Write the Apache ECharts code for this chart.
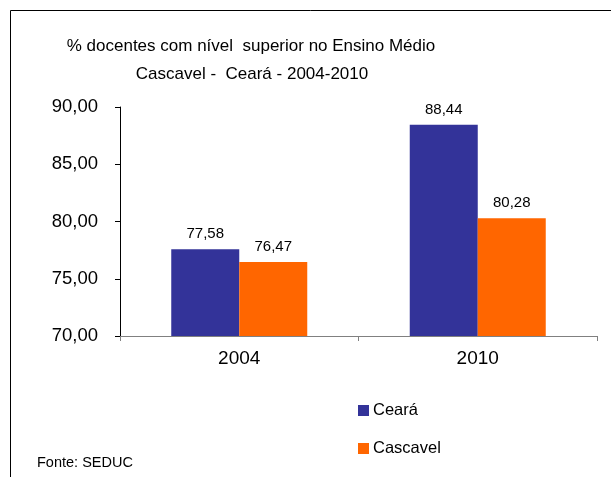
<!DOCTYPE html>
<html><head><meta charset="utf-8">
<script src="https://cdn.jsdelivr.net/npm/echarts@6/dist/echarts.min.js"></script>
<style>html,body{margin:0;padding:0;background:#fff}#c{width:611px;height:477px}</style>
</head><body><div id="c"></div>
<script>
const categories = ['2004', '2010'];
const seriesNames = ['Ceará', 'Cascavel'];
const cearaValues = [77.58, 88.44];
const cascavelValues = [76.47, 80.28];
const titleLines = ['% docentes com nível  superior no Ensino Médio', 'Cascavel -  Ceará - 2004-2010'];
const sourceText = 'Fonte: SEDUC';

const fmt = v => Number(v).toFixed(2).replace('.', ',');
const font = 'Liberation Sans, Arial, sans-serif';
const chart = echarts.init(document.getElementById('c'));
chart.setOption({
  animation: false,
  backgroundColor: '#fff',
  title: [
    { text: titleLines[0], left: 246, top: 33, textAlign: 'center',
      textStyle: { fontFamily: font, fontSize: 17, fontWeight: 'normal', color: '#000' } },
    { text: titleLines[1], left: 247, top: 61, textAlign: 'center',
      textStyle: { fontFamily: font, fontSize: 17, fontWeight: 'normal', color: '#000' } }
  ],
  graphic: [
    { type: 'polyline', shape: { points: [[10.5, 477], [10.5, 10.5], [611, 10.5]] },
      style: { stroke: '#000', lineWidth: 1, fill: null } },
    { type: 'text', left: 37, top: 455,
      style: { text: sourceText, font: '14.5px ' + font, fill: '#000' } }
  ],
  legend: {
    orient: 'vertical', left: 353, top: 397, itemWidth: 11, itemHeight: 11, itemGap: 21,
    icon: 'rect',
    textStyle: { fontFamily: font, fontSize: 16.5, color: '#000', padding: [0, 0, 0, -1] },
    data: seriesNames
  },
  grid: { left: 120, right: 14, top: 107, bottom: 141, containLabel: false },
  xAxis: {
    type: 'category', data: categories,
    axisLine: { lineStyle: { color: '#808080', width: 1 } },
    axisTick: { show: true, length: 5, lineStyle: { color: '#808080' } },
    axisLabel: { fontFamily: font, fontSize: 19, color: '#000', margin: 13 }
  },
  yAxis: {
    type: 'value', min: 70, max: 90, interval: 5,
    axisLine: { show: true, lineStyle: { color: '#000', width: 1 } },
    axisTick: { show: true, length: 5, lineStyle: { color: '#000' } },
    splitLine: { show: false },
    axisLabel: { fontFamily: font, fontSize: 18.5, color: '#000', margin: 22, formatter: fmt }
  },
  series: [
    { name: seriesNames[0], type: 'bar', data: cearaValues, barWidth: 68, barGap: '0%',
      itemStyle: { color: '#333399' },
      label: { show: true, position: 'top', distance: 8, formatter: p => fmt(p.value),
        fontFamily: font, fontSize: 15, color: '#000' } },
    { name: seriesNames[1], type: 'bar', data: cascavelValues, barWidth: 68, barGap: '0%',
      itemStyle: { color: '#FF6600' },
      label: { show: true, position: 'top', distance: 8, formatter: p => fmt(p.value),
        fontFamily: font, fontSize: 15, color: '#000' } }
  ]
});
</script></body></html>
